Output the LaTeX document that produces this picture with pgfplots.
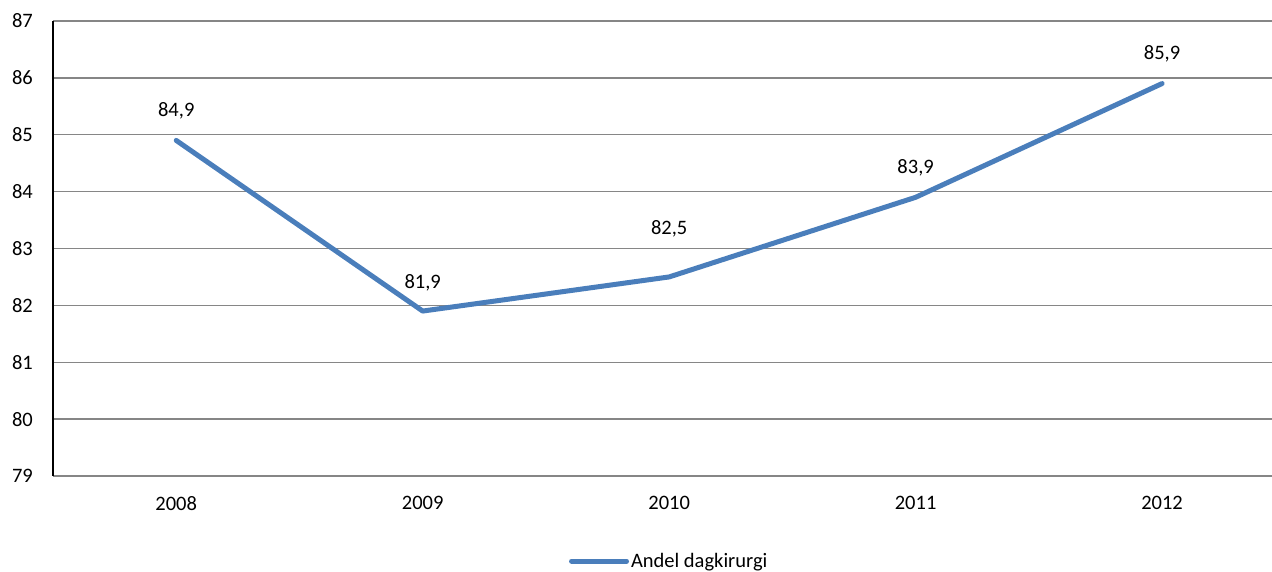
\documentclass[border=0pt]{standalone}
\usepackage{fontspec}
\setmainfont{Carlito}
\usepackage{pgfplots}
\usepackage{pgfplotstable}
\pgfplotsset{compat=1.18}

\definecolor{seriesblue}{RGB}{74,126,187}
\definecolor{gridgray}{RGB}{134,134,134}

% year index, share of day surgery (%), label lift above the point (pt)
\pgfplotstableread{
x  y     lift
0  84.9  24
1  81.9  23
2  82.5  42
3  83.9  24
4  85.9  24
}\dagdata

\begin{document}
\begin{tikzpicture}[x=1pt,y=1pt,font=\fontsize{20.5}{24}\selectfont]
\useasboundingbox (0,0) rectangle (1272,572);
\begin{axis}[
  at={(53pt,96pt)}, anchor=south west,
  scale only axis, width=1219pt, height=455pt,
  xmin=-0.5, xmax=4.446, ymin=79, ymax=87,
  ytick={79,80,...,87},
  xtick={0,1,2,3,4},
  xticklabels={2008,2009,2010,2011,2012},
  major tick length=0pt,
  axis lines*=left,
  y axis line style={black, line width=1.4pt},
  x axis line style={gridgray, line width=1.4pt},
  ymajorgrids,
  grid style={gridgray, line width=1.4pt},
  /pgf/number format/assume math mode=true,
  yticklabel style={anchor=east, inner sep=0pt, xshift=-20pt,
    font=\fontsize{20.5}{24}\selectfont},
  xticklabel style={anchor=north, inner sep=0pt, yshift=-20.5pt,
    font=\fontsize{20.5}{24}\selectfont},
  clip=false,
  legend style={at={(0.5055,-0.187)}, anchor=center, draw=none,
    fill=none, font=\fontsize{20.5}{24}\selectfont,
    inner sep=0pt, legend cell align=left,
    nodes={inner xsep=2pt}},
  legend image code/.code={%
    \draw[#1, line cap=round] (0pt,0pt) -- (55pt,0pt);},
]
\addplot[seriesblue, line width=5pt, line join=round, line cap=round,
  mark=none,
  visualization depends on={\thisrow{lift} \as \lift},
  nodes near coords={\pgfmathprintnumber[fixed,fixed zerofill,precision=1,use comma]{\pgfplotspointmeta}},
  point meta=explicit,
  every node near coord/.append style={anchor=base, inner sep=0pt,
    yshift=\lift pt, black, font=\fontsize{20.5}{24}\selectfont},
] table[x=x, y=y, meta=y] {\dagdata};
\addlegendentry{Andel dagkirurgi}
\end{axis}
\end{tikzpicture}
\end{document}
